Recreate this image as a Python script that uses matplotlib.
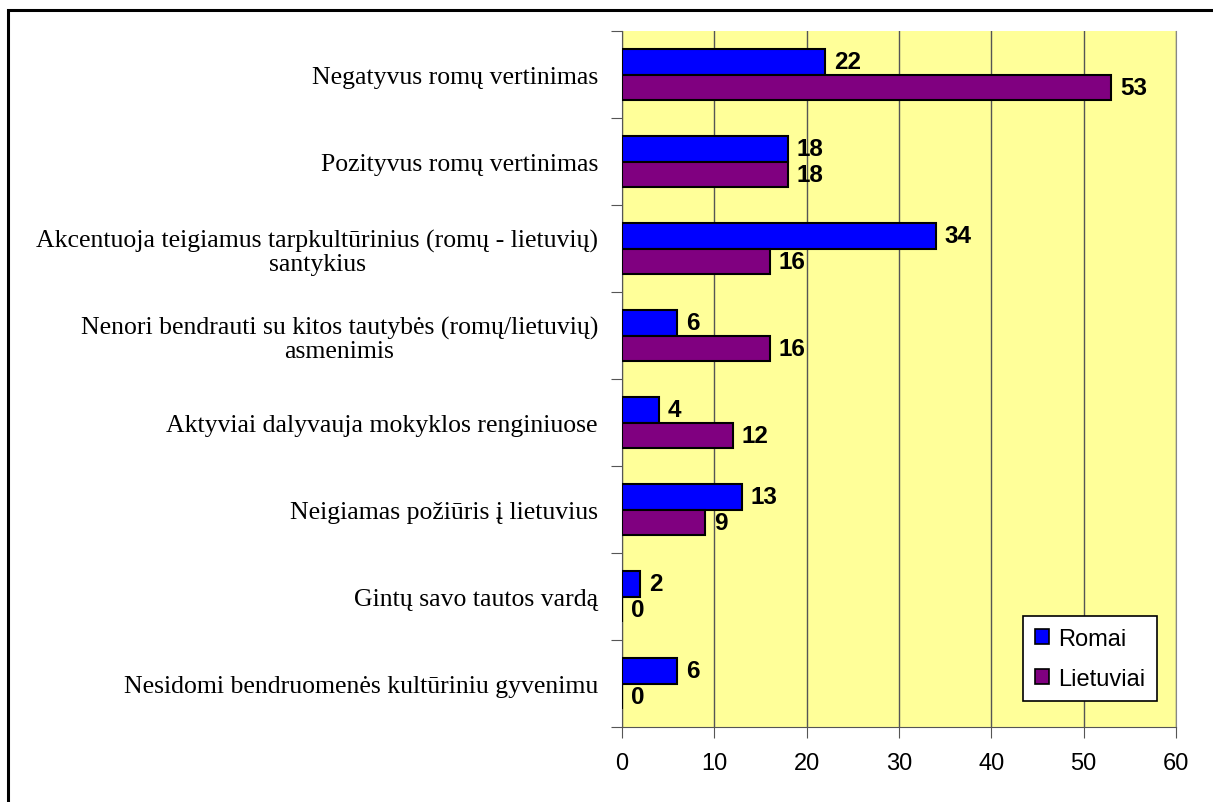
import matplotlib
matplotlib.use("Agg")
import matplotlib.pyplot as plt
from matplotlib.patches import Rectangle
from matplotlib.transforms import blended_transform_factory
import numpy as np

categories = [
    "Negatyvus romų vertinimas",
    "Pozityvus romų vertinimas",
    "Akcentuoja teigiamus tarpkultūrinius (romų - lietuvių)\nsantykius",
    "Nenori bendrauti su kitos tautybės (romų/lietuvių)\nasmenimis",
    "Aktyviai dalyvauja mokyklos renginiuose",
    "Neigiamas požiūris į lietuvius",
    "Gintų savo tautos vardą",
    "Nesidomi bendruomenės kultūriniu gyvenimu",
]
romai = [22, 18, 34, 6, 4, 13, 2, 6]
lietuviai = [53, 18, 16, 16, 12, 9, 0, 0]
series_names = ["Romai", "Lietuviai"]
xticks = [0, 10, 20, 30, 40, 50, 60]

W, H = 1213, 803
fig = plt.figure(figsize=(W / 100, H / 100), dpi=100)
fig.patch.set_facecolor("white")

# outer frame (top and left visible)
fig.add_artist(Rectangle((8 / W, -0.1), 1.2, (H - 11) / H + 0.1, transform=fig.transFigure,
                         fill=False, edgecolor="black", linewidth=2.2))

left, right, top, bottom = 622, 1176, 32, 728
ax = fig.add_axes([left / W, 1 - bottom / H, (right - left) / W, (bottom - top) / H])
ax.set_facecolor("#ffff99")

n = len(categories)
y = np.arange(n)
h = 0.29
ax.barh(y - h / 2, romai, height=h, color="#0000ff", edgecolor="black", linewidth=1.5,
        label=series_names[0], zorder=3)
ax.barh(y + h / 2, lietuviai, height=h, color="#800080", edgecolor="black", linewidth=1.5,
        label=series_names[1], zorder=3)

for yi, v in zip(y, romai):
    ax.text(v + 0.95, yi - h / 2, str(v), va="center", ha="left", fontsize=17.5,
            fontweight="bold", family="Liberation Sans", zorder=4)
for yi, v in zip(y, lietuviai):
    ax.text(v + 0.95, yi + h / 2, str(v), va="center", ha="left", fontsize=17.5,
            fontweight="bold", family="Liberation Sans", zorder=4)

ax.set_xlim(0, 60)
ax.set_ylim(n - 0.5, -0.5)
ax.set_xticks(xticks)
ax.set_xticklabels([str(t) for t in xticks], family="Liberation Sans", fontsize=17)
ax.xaxis.grid(True, color="#555555", linewidth=1.0, zorder=1)
ax.set_axisbelow(True)

ax.set_yticks(np.arange(-0.5, n, 1.0))
ax.set_yticklabels([])
ax.set_yticks(y, minor=True)
ax.set_yticklabels(categories, minor=True, family="Liberation Serif", fontsize=18.5,
                   ha="center", multialignment="center", linespacing=1.1)
ax.tick_params(axis="y", which="minor", length=0, pad=0)
ax.tick_params(axis="y", which="major", length=8, color="#555555")
ax.tick_params(axis="x", which="major", length=8, color="#555555", pad=10)

fig.canvas.draw()
renderer = fig.canvas.get_renderer()
for lbl in ax.get_yticklabels(minor=True):
    bb = lbl.get_window_extent(renderer)
    wpx = bb.width
    lbl.set_ha("center")
    lbl.set_transform(blended_transform_factory(fig.transFigure, ax.transData))
    lbl.set_x((598 - wpx / 2) / W)

ax.spines["top"].set_visible(False)
ax.spines["right"].set_color("#888888")
ax.spines["left"].set_color("#555555")
ax.spines["bottom"].set_color("#555555")

leg = ax.legend(loc="upper left", bbox_to_anchor=((1023 - left) / (right - left), 1 - (617 - top) / (bottom - top)),
                prop={"family": "Liberation Sans", "size": 17}, frameon=True, fancybox=False,
                edgecolor="black", framealpha=1, facecolor="white",
                handlelength=0.6, handleheight=0.6, labelspacing=0.75,
                borderpad=0.5, handletextpad=0.4, borderaxespad=0)
leg.get_frame().set_linewidth(1.2)
for p in leg.get_patches():
    p.set_linewidth(1.2)

fig.savefig("out.png", dpi=100, facecolor="white")
